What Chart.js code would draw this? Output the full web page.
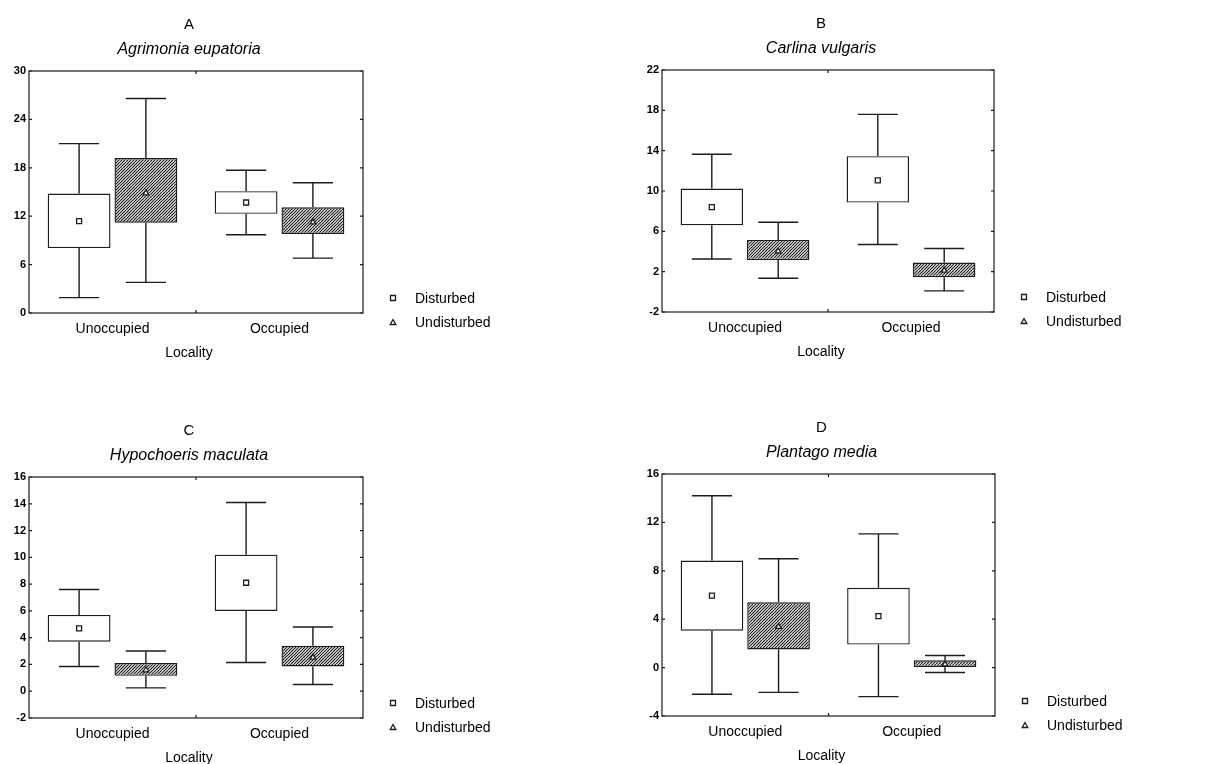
<!DOCTYPE html>
<html>
<head>
<meta charset="utf-8">
<script src="https://cdn.jsdelivr.net/npm/chart.js@4.4.0/dist/chart.umd.min.js"></script>
<style>
  body { margin: 0; background: #fff; }
  #wrap { position: relative; width: 1209px; height: 764px; overflow: hidden; }
  canvas { position: absolute; }
</style>
</head>
<body>
<div id="wrap">
  <canvas id="chartA" width="600" height="382" style="left:0;top:0"></canvas>
  <canvas id="chartB" width="609" height="382" style="left:600px;top:0"></canvas>
  <canvas id="chartC" width="600" height="382" style="left:0;top:382px"></canvas>
  <canvas id="chartD" width="609" height="382" style="left:600px;top:382px"></canvas>
</div>
<script>
const categories = ['Unoccupied', 'Occupied'];
const seriesNames = ['Disturbed', 'Undisturbed'];

// A - Agrimonia eupatoria
const aTicks = [0, 6, 12, 18, 24, 30];
const aDistBox = [[8.05, 14.8], [12.3, 15.1]];
const aDistWhisker = [[1.9, 21.0], [9.7, 17.7]];
const aDistMean = [11.4, 13.7];
const aUndBox = [[11.2, 19.2], [9.8, 13.1]];
const aUndWhisker = [[3.8, 26.6], [6.8, 16.15]];
const aUndMean = [14.9, 11.3];

// B - Carlina vulgaris
const bTicks = [-2, 2, 6, 10, 14, 18, 22];
const bDistBox = [[6.6, 10.25], [8.85, 13.45]];
const bDistWhisker = [[3.25, 13.65], [4.7, 17.6]];
const bDistMean = [8.4, 11.05];
const bUndBox = [[3.15, 5.15], [1.45, 2.9]];
const bUndWhisker = [[1.35, 6.9], [0.1, 4.3]];
const bUndMean = [4.05, 2.15];

// C - Hypochoeris maculata
const cTicks = [-2, 0, 2, 4, 6, 8, 10, 12, 14, 16];
const cDistBox = [[3.7, 5.7], [6.0, 10.2]];
const cDistWhisker = [[1.85, 7.6], [2.15, 14.1]];
const cDistMean = [4.7, 8.1];
const cUndBox = [[1.15, 2.1], [1.85, 3.4]];
const cUndWhisker = [[0.25, 3.0], [0.5, 4.8]];
const cUndMean = [1.6, 2.55];

// D - Plantago media
const dTicks = [-4, 0, 4, 8, 12, 16];
const dDistBox = [[3.05, 8.85], [1.9, 6.6]];
const dDistWhisker = [[-2.2, 14.2], [-2.4, 11.05]];
const dDistMean = [5.95, 4.25];
const dUndBox = [[1.5, 5.4], [0.05, 0.6]];
const dUndWhisker = [[-2.05, 9.0], [-0.4, 1.0]];
const dUndMean = [3.4, 0.3];

const FONT = "'Liberation Sans', Arial, sans-serif";
const INK = '#1c1c1c';
Chart.defaults.font.family = FONT;
Chart.defaults.color = '#000';

function makeHatch() {
  const s = 6;
  const c = document.createElement('canvas');
  c.width = s; c.height = s;
  const g = c.getContext('2d');
  g.fillStyle = '#fff';
  g.fillRect(0, 0, s, s);
  g.strokeStyle = '#1a1a1a';
  g.lineWidth = 1.2;
  g.beginPath();
  for (let k = -2; k <= 2; k++) {
    g.moveTo(k * 3, s);
    g.lineTo(k * 3 + s, 0);
  }
  g.stroke();
  return g.createPattern(c, 'repeat');
}

function drawMarker(ctx, style, x, y) {
  ctx.save();
  ctx.fillStyle = '#fff';
  ctx.strokeStyle = INK;
  ctx.lineWidth = 1.3;
  ctx.beginPath();
  if (style === 'rect') {
    ctx.rect(x - 2.5, y - 2.5, 5, 5);
  } else {
    ctx.moveTo(x, y - 3);
    ctx.lineTo(x + 2.8, y + 2);
    ctx.lineTo(x - 2.8, y + 2);
    ctx.closePath();
  }
  ctx.fill();
  ctx.stroke();
  ctx.restore();
}

// whiskers, means, frame, headings and legend
const boxPlot = {
  id: 'boxPlot',
  beforeDatasetsDraw(chart) {
    const { ctx } = chart;
    const y = chart.scales.y;
    ctx.save();
    ctx.strokeStyle = INK;
    ctx.lineWidth = 1.4;
    chart.data.datasets.forEach((ds, i) => {
      chart.getDatasetMeta(i).data.forEach((bar, j) => {
        const [lo, hi] = ds.whiskers[j];
        const [bLo, bHi] = ds.data[j];
        const half = bar.width * 0.32;
        const yHi = y.getPixelForValue(hi);
        const yLo = y.getPixelForValue(lo);
        ctx.beginPath();
        ctx.moveTo(bar.x, y.getPixelForValue(bHi)); ctx.lineTo(bar.x, yHi);
        ctx.moveTo(bar.x - half, yHi); ctx.lineTo(bar.x + half, yHi);
        ctx.moveTo(bar.x, y.getPixelForValue(bLo)); ctx.lineTo(bar.x, yLo);
        ctx.moveTo(bar.x - half, yLo); ctx.lineTo(bar.x + half, yLo);
        ctx.stroke();
      });
    });
    ctx.restore();
  },
  afterDatasetsDraw(chart) {
    const y = chart.scales.y;
    chart.data.datasets.forEach((ds, i) => {
      chart.getDatasetMeta(i).data.forEach((bar, j) => {
        drawMarker(chart.ctx, ds.pointStyle, bar.x, y.getPixelForValue(ds.means[j]));
      });
    });
  },
  afterDraw(chart, args, opts) {
    const { ctx, chartArea: a } = chart;
    const y = chart.scales.y;
    ctx.save();
    ctx.strokeStyle = INK;
    ctx.lineWidth = 1.2;
    ctx.strokeRect(a.left, a.top, a.right - a.left, a.bottom - a.top);
    ctx.beginPath();
    y.ticks.forEach(t => {
      const py = y.getPixelForValue(t.value);
      ctx.moveTo(a.left, py); ctx.lineTo(a.left + 3, py);
      ctx.moveTo(a.right, py); ctx.lineTo(a.right - 3, py);
    });
    const mid = (a.left + a.right) / 2;
    ctx.moveTo(mid, a.top); ctx.lineTo(mid, a.top + 3);
    ctx.moveTo(mid, a.bottom); ctx.lineTo(mid, a.bottom - 3);
    ctx.stroke();

    const cx = mid - 7;
    ctx.fillStyle = '#000';
    ctx.textAlign = 'center';
    ctx.textBaseline = 'middle';
    ctx.font = '15px ' + FONT;
    ctx.fillText(opts.letter, cx, a.top - 46);
    ctx.font = 'italic 16px ' + FONT;
    ctx.fillText(opts.species, cx, a.top - 21);
    ctx.font = '14px ' + FONT;
    ctx.fillText('Locality', cx, a.bottom + 40.5);

    ctx.textAlign = 'left';
    const rows = [a.bottom - 15, a.bottom + 9.5];
    chart.data.datasets.forEach((ds, i) => {
      drawMarker(ctx, ds.pointStyle, a.right + 30, rows[i]);
      ctx.fillStyle = '#000';
      ctx.fillText(ds.label, a.right + 52, rows[i] + 1);
    });
    ctx.restore();
  }
};

const hatch = makeHatch();

function makePanel(id, letter, species, ticks, series, box) {
  return new Chart(document.getElementById(id), {
    type: 'bar',
    data: {
      labels: categories,
      datasets: series.map((s, i) => ({
        label: seriesNames[i],
        data: s.box,
        whiskers: s.whisker,
        means: s.mean,
        pointStyle: i === 0 ? 'rect' : 'triangle',
        backgroundColor: i === 0 ? '#fff' : hatch,
        borderColor: INK,
        borderWidth: 1.4,
        borderSkipped: false,
        categoryPercentage: 0.8,
        barPercentage: 0.94
      }))
    },
    options: {
      responsive: false,
      animation: false,
      layout: { padding: { top: box.top, right: box.right, left: 0, bottom: 0 } },
      plugins: {
        legend: { display: false },
        tooltip: { enabled: false },
        boxPlot: { letter, species }
      },
      scales: {
        x: {
          grid: { display: false, drawTicks: false },
          border: { display: false },
          ticks: { padding: 8, font: { size: 14 }, color: '#000' },
          afterFit(scale) { scale.height = box.xHeight; }
        },
        y: {
          min: ticks[0],
          max: ticks[ticks.length - 1],
          grid: { display: false, drawTicks: false },
          border: { display: false },
          ticks: { padding: 3, font: { size: 11, weight: 'bold' }, color: '#000' },
          afterBuildTicks(scale) { scale.ticks = ticks.map(v => ({ value: v })); },
          afterFit(scale) { scale.width = box.yWidth; }
        }
      }
    },
    plugins: [boxPlot]
  });
}

makePanel('chartA', 'A', 'Agrimonia eupatoria', aTicks, [
  { box: aDistBox, whisker: aDistWhisker, mean: aDistMean },
  { box: aUndBox, whisker: aUndWhisker, mean: aUndMean }
], { yWidth: 29, top: 71, right: 237, xHeight: 69 });

makePanel('chartB', 'B', 'Carlina vulgaris', bTicks, [
  { box: bDistBox, whisker: bDistWhisker, mean: bDistMean },
  { box: bUndBox, whisker: bUndWhisker, mean: bUndMean }
], { yWidth: 62, top: 70, right: 215, xHeight: 70 });

makePanel('chartC', 'C', 'Hypochoeris maculata', cTicks, [
  { box: cDistBox, whisker: cDistWhisker, mean: cDistMean },
  { box: cUndBox, whisker: cUndWhisker, mean: cUndMean }
], { yWidth: 29, top: 95, right: 237, xHeight: 46 });

makePanel('chartD', 'D', 'Plantago media', dTicks, [
  { box: dDistBox, whisker: dDistWhisker, mean: dDistMean },
  { box: dUndBox, whisker: dUndWhisker, mean: dUndMean }
], { yWidth: 62, top: 92, right: 214, xHeight: 48 });
</script>
</body>
</html>
